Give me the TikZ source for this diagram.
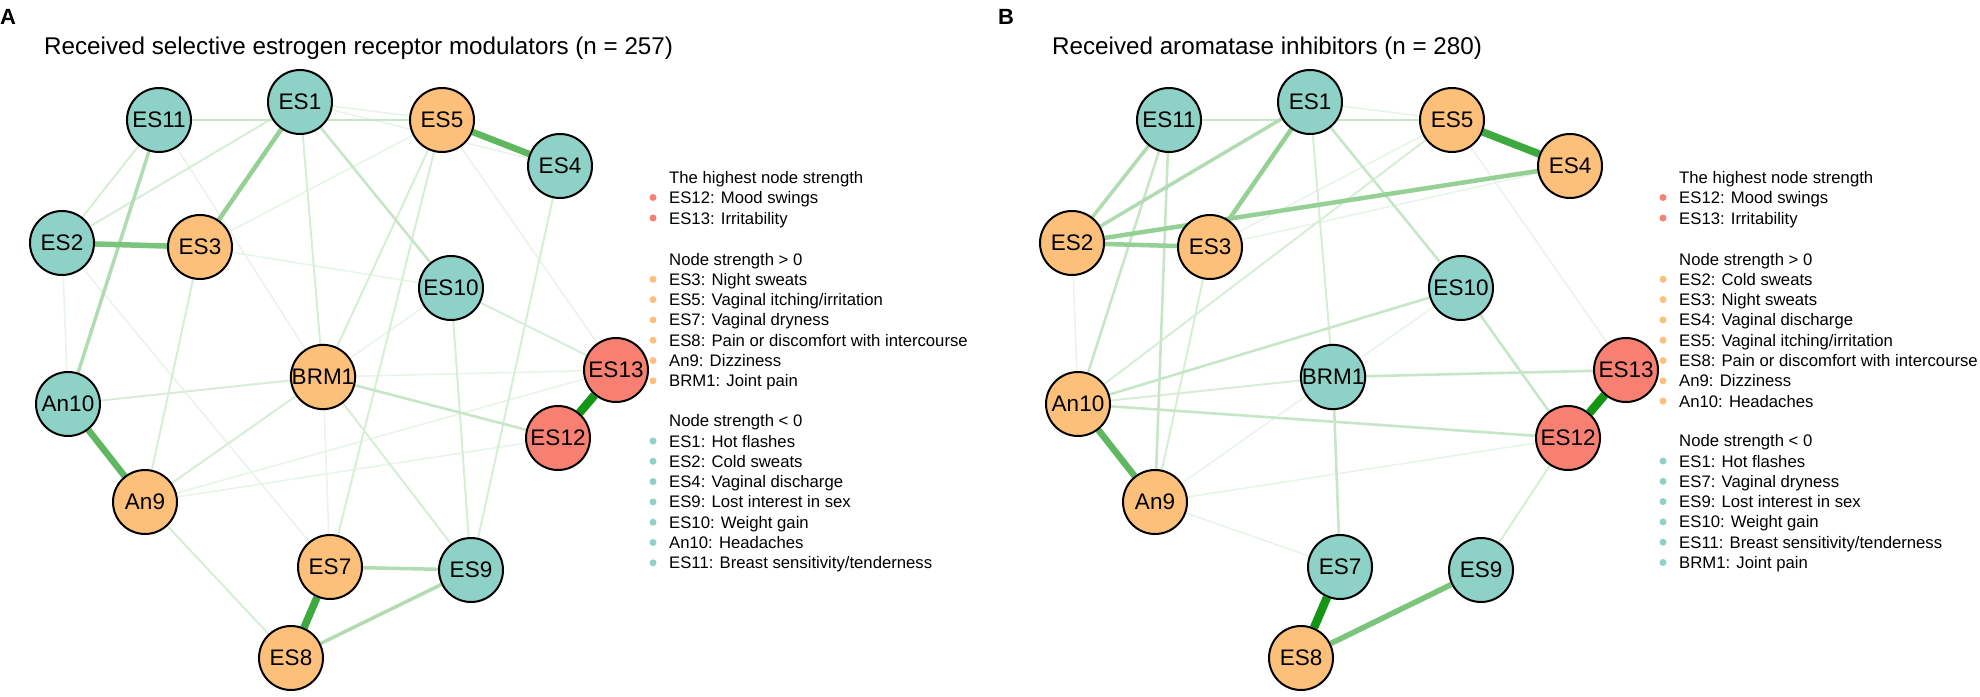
\documentclass[tikz,border=0pt]{standalone}
\usepackage{fontspec}
\setmainfont{Liberation Sans}
\pgfdeclarelayer{edges}
\pgfsetlayers{edges,main}
\definecolor{tealc}{RGB}{142,209,199}
\definecolor{orangec}{RGB}{253,192,123}
\definecolor{redc}{RGB}{247,128,114}
\definecolor{eg}{RGB}{20,150,20}
\tikzset{
  gnode/.style={circle, draw=black, line width=2pt, minimum size=64pt, inner sep=0pt,
    font=\fontsize{22.5}{24}\selectfont},
  legtext/.style={anchor=base west, inner sep=0pt, font=\fontsize{16.7}{20}\selectfont},
  legdot/.style={circle, inner sep=0pt, minimum size=7pt, draw=none},
  ttl/.style={anchor=base west, inner sep=0pt, font=\fontsize{24.2}{27}\selectfont},
  panel/.style={anchor=base west, inner sep=0pt, font=\fontsize{22}{24}\selectfont\bfseries},
  ew/.style 2 args={line width=#1pt, draw=eg!#2!white},
  w1/.style={ew={1.5}{10}},
  w2/.style={ew={2}{17}},
  w3/.style={ew={2.6}{24}},
  w4/.style={ew={3.5}{33}},
  w5/.style={ew={4.5}{45}},
  w6/.style={ew={5.5}{56}},
  w7/.style={ew={6.5}{68}},
  w8/.style={ew={7.5}{82}},
  w9/.style={ew={8.5}{100}},
}
\newcommand{\Nd}[5]{\node[gnode, fill=#5] (#1#2) at (#3,#4) {#2};}
\newcommand{\LegItem}[5]{%
  \node[legdot, fill=#4] (#1d) at (#2-16,#3-6) {};
  \node[legtext] (#1) at (#2,#3) {#5};}
\newcommand{\Ed}[3]{\draw[#1] (#2) -- (#3);}
\begin{document}
\begin{tikzpicture}[x=1pt,y=-1pt]
\useasboundingbox (0,0) rectangle (1980,696);
% ---------------- Panel A ----------------
\node[panel] (labA) at (0,24) {A};
\node[ttl] (ttlA) at (44,54) {Received selective estrogen receptor modulators (n = 257)};
\Nd{a}{ES1}{300}{102}{tealc}
\Nd{a}{ES11}{159}{120}{tealc}
\Nd{a}{ES5}{442}{120}{orangec}
\Nd{a}{ES4}{560}{166}{tealc}
\Nd{a}{ES2}{62}{243}{tealc}
\Nd{a}{ES3}{200}{247}{orangec}
\Nd{a}{ES10}{451}{288}{tealc}
\Nd{a}{BRM1}{323}{377}{orangec}
\Nd{a}{ES13}{616}{370}{redc}
\Nd{a}{An10}{68}{404}{tealc}
\Nd{a}{ES12}{558}{438}{redc}
\Nd{a}{An9}{145}{502}{orangec}
\Nd{a}{ES7}{330}{567}{orangec}
\Nd{a}{ES9}{471}{570}{tealc}
\Nd{a}{ES8}{291}{658}{orangec}
\begin{pgfonlayer}{edges}
\Ed{w1}{aES11}{aBRM1}
\Ed{w1}{aES2}{aAn10}
\Ed{w1}{aES10}{aBRM1}
\Ed{w1}{aES3}{aES10}
\Ed{w1}{aBRM1}{aES13}
\Ed{w1}{aES5}{aES13}
\Ed{w1}{aAn9}{aES13}
\Ed{w1}{aAn9}{aES12}
\Ed{w1}{aES2}{aES7}
\Ed{w1}{aES7}{aBRM1}
\Ed{w1}{aES1}{aES5}
\Ed{w1}{aES5}{aES3}
\Ed{w1}{aES1}{aES4}
\Ed{w2}{aAn10}{aBRM1}
\Ed{w2}{aES11}{aES2}
\Ed{w2}{aES1}{aES2}
\Ed{w2}{aES1}{aBRM1}
\Ed{w2}{aES5}{aBRM1}
\Ed{w2}{aES5}{aES7}
\Ed{w2}{aES4}{aES9}
\Ed{w2}{aBRM1}{aES9}
\Ed{w2}{aES9}{aES10}
\Ed{w2}{aES10}{aES13}
\Ed{w2}{aES3}{aAn9}
\Ed{w2}{aAn9}{aES8}
\Ed{w2}{aAn9}{aBRM1}
\Ed{w3}{aES11}{aES5}
\Ed{w3}{aES1}{aES10}
\Ed{w3}{aBRM1}{aES12}
\Ed{w4}{aES11}{aAn10}
\Ed{w4}{aES7}{aES9}
\Ed{w4}{aES8}{aES9}
\Ed{w5}{aES1}{aES3}
\Ed{w6}{aES2}{aES3}
\Ed{w7}{aAn10}{aAn9}
\Ed{w7}{aES5}{aES4}
\Ed{w8}{aES7}{aES8}
\Ed{w9}{aES12}{aES13}
\end{pgfonlayer}
% legend A
\node[legtext] (lA1) at (669,183) {The highest node strength};
\LegItem{la12}{669}{203.5}{redc}{ES12: Mood swings}
\LegItem{la13}{669}{224}{redc}{ES13: Irritability}
\node[legtext] (lA2) at (669,265) {Node strength > 0};
\LegItem{la3}{669}{285.3}{orangec}{ES3: Night sweats}
\LegItem{la5}{669}{305.6}{orangec}{ES5: Vaginal itching/irritation}
\LegItem{la7}{669}{325.9}{orangec}{ES7: Vaginal dryness}
\LegItem{la8}{669}{346.2}{orangec}{ES8: Pain or discomfort with intercourse}
\LegItem{la9}{669}{366.5}{orangec}{An9: Dizziness}
\LegItem{laB}{669}{386.8}{orangec}{BRM1: Joint pain}
\node[legtext] (lA3) at (669,426.7) {Node strength < 0};
\LegItem{lb1}{669}{447}{tealc}{ES1: Hot flashes}
\LegItem{lb2}{669}{467.3}{tealc}{ES2: Cold sweats}
\LegItem{lb4}{669}{487.6}{tealc}{ES4: Vaginal discharge}
\LegItem{lb9}{669}{507.9}{tealc}{ES9: Lost interest in sex}
\LegItem{lb10}{669}{528.2}{tealc}{ES10: Weight gain}
\LegItem{lbA}{669}{548.5}{tealc}{An10: Headaches}
\LegItem{lb11}{669}{568.8}{tealc}{ES11: Breast sensitivity/tenderness}
% ---------------- Panel B ----------------
\node[panel] (labB) at (998,24) {B};
\node[ttl] (ttlB) at (1052,54) {Received aromatase inhibitors (n = 280)};
\begin{scope}[shift={(1010,0)}]
\Nd{b}{ES1}{300}{102}{tealc}
\Nd{b}{ES11}{159}{120}{tealc}
\Nd{b}{ES5}{442}{120}{orangec}
\Nd{b}{ES4}{560}{166}{orangec}
\Nd{b}{ES2}{62}{243}{orangec}
\Nd{b}{ES3}{200}{247}{orangec}
\Nd{b}{ES10}{451}{288}{tealc}
\Nd{b}{BRM1}{323}{377}{tealc}
\Nd{b}{ES13}{616}{370}{redc}
\Nd{b}{An10}{68}{404}{orangec}
\Nd{b}{ES12}{558}{438}{redc}
\Nd{b}{An9}{145}{502}{orangec}
\Nd{b}{ES7}{330}{567}{tealc}
\Nd{b}{ES9}{471}{570}{tealc}
\Nd{b}{ES8}{291}{658}{orangec}
\end{scope}
\begin{pgfonlayer}{edges}
\Ed{w1}{bES10}{bBRM1}
\Ed{w1}{bAn9}{bES12}
\Ed{w1}{bAn9}{bES7}
\Ed{w1}{bES2}{bAn10}
\Ed{w1}{bES5}{bES3}
\Ed{w1}{bES3}{bES4}
\Ed{w1}{bES5}{bES13}
\Ed{w1}{bAn9}{bBRM1}
\Ed{w1}{bES1}{bES5}
\Ed{w2}{bES9}{bES12}
\Ed{w2}{bAn10}{bBRM1}
\Ed{w2}{bES5}{bAn10}
\Ed{w2}{bES3}{bAn9}
\Ed{w2}{bES1}{bBRM1}
\Ed{w3}{bES11}{bAn10}
\Ed{w3}{bES11}{bAn9}
\Ed{w3}{bES11}{bES5}
\Ed{w3}{bES1}{bES10}
\Ed{w3}{bAn10}{bES10}
\Ed{w3}{bAn10}{bES12}
\Ed{w3}{bBRM1}{bES13}
\Ed{w3}{bES10}{bES12}
\Ed{w3}{bBRM1}{bES7}
\Ed{w4}{bES1}{bES2}
\Ed{w4}{bES11}{bES2}
\Ed{w5}{bES2}{bES4}
\Ed{w5}{bES1}{bES3}
\Ed{w5}{bES2}{bES3}
\Ed{w6}{bES8}{bES9}
\Ed{w7}{bAn10}{bAn9}
\Ed{w8}{bES5}{bES4}
\Ed{w9}{bES7}{bES8}
\Ed{w9}{bES12}{bES13}
\end{pgfonlayer}
% legend B
\node[legtext] (lB1) at (1679,183) {The highest node strength};
\LegItem{lc12}{1679}{203.5}{redc}{ES12: Mood swings}
\LegItem{lc13}{1679}{224}{redc}{ES13: Irritability}
\node[legtext] (lB2) at (1679,265) {Node strength > 0};
\LegItem{lc2}{1679}{285.3}{orangec}{ES2: Cold sweats}
\LegItem{lc3}{1679}{305.6}{orangec}{ES3: Night sweats}
\LegItem{lc4}{1679}{325.9}{orangec}{ES4: Vaginal discharge}
\LegItem{lc5}{1679}{346.2}{orangec}{ES5: Vaginal itching/irritation}
\LegItem{lc8}{1679}{366.5}{orangec}{ES8: Pain or discomfort with intercourse}
\LegItem{lc9}{1679}{386.8}{orangec}{An9: Dizziness}
\LegItem{lcA}{1679}{407.1}{orangec}{An10: Headaches}
\node[legtext] (lB3) at (1679,446.7) {Node strength < 0};
\LegItem{ld1}{1679}{467}{tealc}{ES1: Hot flashes}
\LegItem{ld7}{1679}{487.3}{tealc}{ES7: Vaginal dryness}
\LegItem{ld9}{1679}{507.6}{tealc}{ES9: Lost interest in sex}
\LegItem{ld10}{1679}{527.9}{tealc}{ES10: Weight gain}
\LegItem{ld11}{1679}{548.2}{tealc}{ES11: Breast sensitivity/tenderness}
\LegItem{ldB}{1679}{568.5}{tealc}{BRM1: Joint pain}
\end{tikzpicture}
\end{document}
